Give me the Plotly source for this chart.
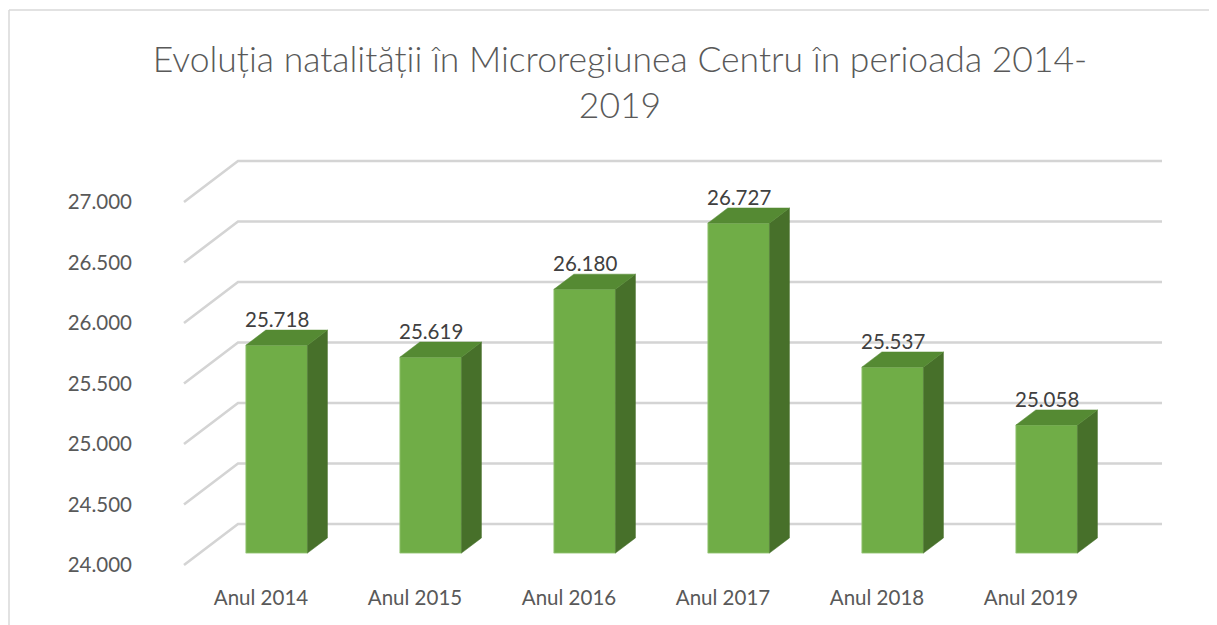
import plotly.graph_objects as go

# ---------------- data ----------------
categories = ["Anul 2014", "Anul 2015", "Anul 2016", "Anul 2017", "Anul 2018", "Anul 2019"]
values = [25718, 25619, 26180, 26727, 25537, 25058]
tick_values = [24000, 24500, 25000, 25500, 26000, 26500, 27000]
title_text = "Evoluția natalității în Microregiunea Centru în perioada 2014-<br>2019"

# ---------------- geometry (pixels, figure coordinates) ----------------
W, H = 1217, 625
PX_X0 = 253          # pixel x of category 0 on the front plane
PX_PER_CAT = 154     # pixels between categories
PX_Y_BASE = 557      # pixel y of lowest tick on the front plane
PX_PER_UNIT = 0.121  # pixels per value unit
DEPTH_DX, DEPTH_DY = 54, 41   # pixel shift from front to back plane
FRONT_D, BACK_D = 0.29, 0.66  # bar depth fractions
BAR_W = 0.40

plot_l, plot_r, plot_t, plot_b = 125, 1172, 122, 575
base_val = tick_values[0]
x_range = [(plot_l - PX_X0) / PX_PER_CAT, (plot_r - PX_X0) / PX_PER_CAT]
y_range = [base_val - (plot_b - PX_Y_BASE) / PX_PER_UNIT,
           base_val + (PX_Y_BASE - plot_t) / PX_PER_UNIT]
dxu = DEPTH_DX / PX_PER_CAT
dyu = DEPTH_DY / PX_PER_UNIT
n = len(categories)

fig = go.Figure()

# gridlines: diagonal on the left wall + horizontal on the back wall (below the bars)
for t in tick_values:
    path = (f"M {-0.5},{t} L {-0.5 + dxu},{t + dyu} "
            f"L {n - 0.5 + dxu},{t + dyu}")
    fig.add_shape(type="path", path=path, xref="x", yref="y", layer="below",
                  line=dict(color="#D4D4D4", width=2.6))

# bar geometry
xf = [i + FRONT_D * dxu for i in range(n)]
fY, bY = FRONT_D * dyu, BACK_D * dyu
ddx = (BACK_D - FRONT_D) * dxu

tx, ty, sx, sy = [], [], [], []
for x, v in zip(xf, values):
    xl, xr = x - BAR_W / 2, x + BAR_W / 2
    tx += [xl, xr, xr + ddx, xl + ddx, xl, None]
    ty += [v + fY, v + fY, v + bY, v + bY, v + fY, None]
    sx += [xr, xr, xr + ddx, xr + ddx, xr, None]
    sy += [base_val + fY, v + fY, v + bY, base_val + bY, base_val + fY, None]

# front faces
fig.add_trace(go.Bar(x=xf, y=[v - base_val for v in values],
                     base=[base_val + fY] * n, width=BAR_W,
                     marker=dict(color="#70AD47", line=dict(color="#9CC97F", width=0.8)),
                     hoverinfo="skip"))
# side faces
fig.add_trace(go.Scatter(x=sx, y=sy, mode="lines", fill="toself",
                         fillcolor="#47702A", line=dict(color="#47702A", width=0.5),
                         hoverinfo="skip"))
# top faces
fig.add_trace(go.Scatter(x=tx, y=ty, mode="lines", fill="toself",
                         fillcolor="#558A33", line=dict(color="#558A33", width=0.5),
                         hoverinfo="skip"))

# data labels
for x, v in zip(xf, values):
    fig.add_annotation(x=x, y=v + bY, text=f"{v:,}".replace(",", "."),
                       showarrow=False, yanchor="bottom", yshift=-3,
                       font=dict(family="Lato", size=20.5, color="#404040"))

# chart border (left and top)
def px_to_paper_x(px):
    return (px - plot_l) / (plot_r - plot_l)

def px_to_paper_y(py):
    return (plot_b - py) / (plot_b - plot_t)

fig.add_shape(type="line", xref="paper", yref="paper",
              x0=px_to_paper_x(1), x1=px_to_paper_x(1),
              y0=px_to_paper_y(2), y1=px_to_paper_y(700),
              line=dict(color="#D9D9D9", width=1.5))
fig.add_shape(type="line", xref="paper", yref="paper",
              x0=px_to_paper_x(1), x1=px_to_paper_x(1300),
              y0=px_to_paper_y(2), y1=px_to_paper_y(2),
              line=dict(color="#D9D9D9", width=1.5))

fig.update_layout(
    width=W, height=H,
    margin=dict(l=plot_l, r=W - plot_r, t=plot_t, b=H - plot_b, pad=0),
    paper_bgcolor="white", plot_bgcolor="rgba(0,0,0,0)",
    showlegend=False,
    separators=",.",
    font=dict(family="Lato", color="#595959"),
    title=dict(text=title_text, x=612 / W, xanchor="center", y=1 - 64 / H, yanchor="middle",
               font=dict(family="Lato", size=35.5, color="#595959", weight=300)),
    xaxis=dict(range=x_range, tickvals=list(range(n)), ticktext=categories,
               showgrid=False, zeroline=False, showline=False, ticks="",
               tickfont=dict(size=20.5, color="#595959")),
    yaxis=dict(range=y_range, tickvals=tick_values, tickformat=",d",
               showgrid=False, zeroline=False, showline=False, ticks="",
               tickfont=dict(size=20.5, color="#595959")),
)

fig.write_html("out.html")
